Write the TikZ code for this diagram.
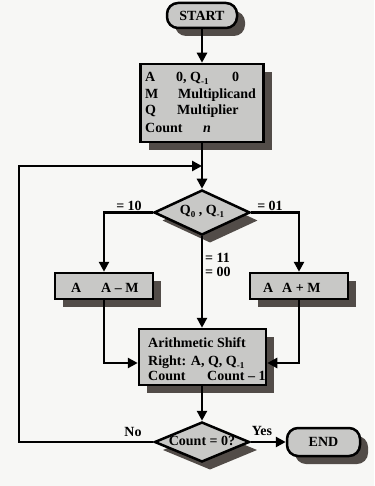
\documentclass[tikz,border=0pt]{standalone}
\usepackage{fontspec}
\setmainfont{Liberation Serif}
\usetikzlibrary{shapes.geometric,arrows.meta,shadows}
\definecolor{bg}{HTML}{F7F7F5}
\definecolor{boxfill}{HTML}{C8C8C6}
\definecolor{shade}{HTML}{524C48}
\newcommand{\sbs}[1]{\raisebox{-3pt}{\fontsize{9}{9}\selectfont #1}}
\begin{document}
\begin{tikzpicture}[x=1pt,y=-1pt, font=\fontsize{14}{16}\selectfont\bfseries,
 sh/.style={drop shadow={shadow xshift=8pt,shadow yshift=-8pt,fill=shade,opacity=1}},
 box/.style={draw=black,line width=2.5pt,fill=boxfill,sh,rectangle,inner sep=0pt},
 term/.style={box,rounded corners=11pt},
 dec/.style={draw=black,line width=2.5pt,fill=boxfill,sh,diamond,inner sep=0pt,shape aspect=2},
 txt/.style={inner sep=0pt,anchor=base west},
 lbl/.style={inner sep=0pt},
 conn/.style={line width=2.5pt,-{Triangle[length=10pt,width=10pt]}}]
\fill[bg] (0,0) rectangle (374,486);
\useasboundingbox (0,0) rectangle (374,486);
% start
\node[term,minimum width=70pt,minimum height=25pt] (start) at (202,15.5) {START};
% init box
\node[box,minimum width=123pt,minimum height=78pt] (init) at (202,103) {};
\node[txt] (i1a) at (145,82) {A};
\node[txt] (i1b) at (176,82) {0, Q\sbs{-1}};
\node[txt] (i1c) at (232,82) {0};
\node[txt] (i2a) at (145,99) {M};
\node[txt] (i2b) at (178,99) {Multiplicand};
\node[txt] (i3a) at (145,115) {Q};
\node[txt] (i3b) at (177,115) {Multiplier};
\node[txt] (i4a) at (145,133) {Count};
\node[txt] (i4b) at (203,133) {\itshape n};
% decision Q0,Q-1
\node[dec,minimum width=96pt,minimum height=45pt] (q) at (202,212.5) {};
\node[lbl] (qt) at (202,211) {Q\sbs{0} , Q\sbs{-1}};
% left / right boxes
\node[box,minimum width=98pt,minimum height=26pt] (sub) at (104,286) {};
\node[txt] (s1) at (71,292) {A};
\node[txt] (s2) at (101,292) {A – M};
\node[box,minimum width=98pt,minimum height=26pt] (add) at (299,286) {};
\node[txt] (a1) at (263,292) {A};
\node[txt] (a2) at (282,292) {A + M};
% arithmetic shift
\node[box,minimum width=127pt,minimum height=56pt] (ash) at (202.5,357) {};
\node[txt] (h1) at (148,347) {Arithmetic Shift};
\node[txt] (h2) at (148,365) {Right: A, Q, Q\sbs{-1}};
\node[txt] (h3) at (148,380) {Count};
\node[txt] (h4) at (207,380) {Count – 1};
% count decision
\node[dec,minimum width=95pt,minimum height=40pt] (cnt) at (202,442) {};
\node[lbl] (ct) at (202,441) {Count = 0?};
% end
\node[term,minimum width=73pt,minimum height=28pt] (stop) at (323.5,442) {END};
% connectors
\coordinate (join) at (202,166);
\coordinate (lp1) at (19,442);
\coordinate (lp2) at (19,166);
\draw[conn] (start) -- (init);
\draw[conn] (init) -- (q);
\draw[conn] (cnt.west) -- (lp1) -- (lp2) -- (join);
\draw[conn] (q.west) -| (sub.north);
\draw[conn] (q.east) -| (add.north);
\draw[conn] (q.south) -- (q.south |- ash.north);
\draw[conn] (sub.south) |- ([yshift=-6pt]ash.west);
\draw[conn] (add.south) |- ([yshift=-6pt]ash.east);
\draw[conn] (ash.south -| cnt.north) -- (cnt.north);
\draw[conn] (cnt.east) -- (stop.west);
% labels
\node[lbl] (l10) at (129,206) {= 10};
\node[lbl] (l01) at (270,206) {= 01};
\node[lbl,anchor=west] (l11) at (205,258) {= 11};
\node[lbl,anchor=west] (l00) at (205,272) {= 00};
\node[lbl] (lno) at (133,432) {No};
\node[lbl] (lyes) at (262,431) {Yes};
\end{tikzpicture}
\end{document}
